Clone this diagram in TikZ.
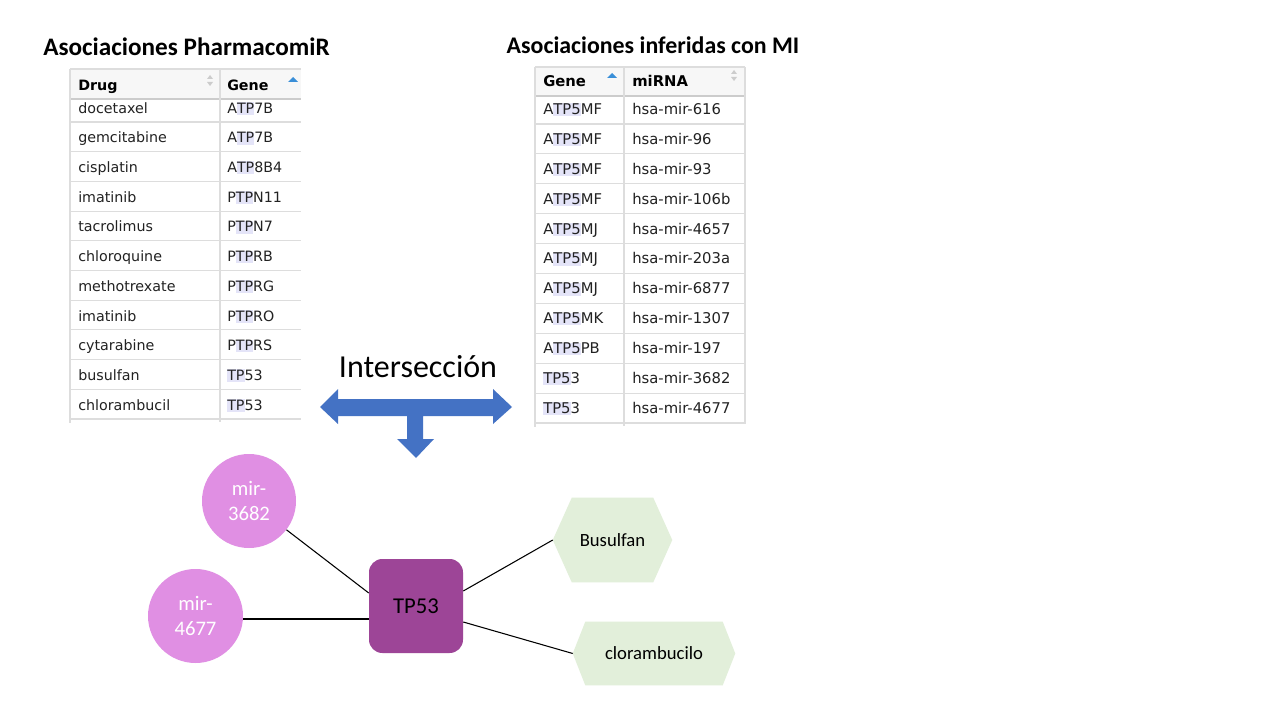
\documentclass[tikz,border=0pt]{standalone}
\usepackage{fontspec}
\setmainfont{Carlito}
\newfontfamily\tabfont{DejaVu Sans}
\usetikzlibrary{shapes.geometric}
\definecolor{arrowblue}{HTML}{4472C4}
\definecolor{mirpink}{HTML}{E08FE3}
\definecolor{tppurple}{HTML}{9D4597}
\definecolor{druggreen}{HTML}{E2EFDA}
\definecolor{hlc}{HTML}{E4E4F8}
\definecolor{gridc}{HTML}{DDDDDD}
\definecolor{headbg}{HTML}{F7F7F7}
\definecolor{sortblue}{HTML}{3A8FD8}
\definecolor{sortgrey}{HTML}{CCCCCC}
\definecolor{tabtext}{HTML}{222222}
\newcommand\hltxt[1]{{\setlength\fboxsep{0pt}\colorbox{hlc}{\rule[-1.3pt]{0pt}{9.6pt}#1}}}
\pgfdeclarelayer{bg}
\pgfsetlayers{bg,main}
\begin{document}
\begin{tikzpicture}[x=0.75pt,y=-0.75pt,
  titletxt/.style={inner sep=0pt,font=\bfseries\fontsize{18.9}{22}\selectfont},
  tabtxtL/.style={anchor=west,inner sep=0pt,text height=7.7pt,text depth=0pt,text=tabtext,font=\tabfont\fontsize{10.7}{12}\selectfont},
  tabtxtR/.style={anchor=west,inner sep=0pt,text height=8.1pt,text depth=0pt,text=tabtext,font=\tabfont\fontsize{11.1}{13}\selectfont},
  headL/.style={tabtxtL,text=black,font=\tabfont\bfseries\fontsize{10.7}{12}\selectfont},
  headR/.style={tabtxtR,text=black,font=\tabfont\bfseries\fontsize{11.1}{13}\selectfont},
  grid/.style={draw=gridc,line width=0.8pt},
  mirnode/.style={ellipse,fill=mirpink,inner sep=0pt,text=white,align=center,font=\fontsize{15.5}{19}\selectfont},
  genenode/.style={rectangle,rounded corners=10pt,fill=tppurple,minimum width=70.5pt,minimum height=70.5pt,inner sep=0pt,font=\fontsize{17}{20}\selectfont},
  hexnode/.style={rectangle,inner sep=0pt,font=\fontsize{14}{17}\selectfont},
  link/.style={draw=black,line width=0.8pt}
]
\useasboundingbox (0,0) rectangle (1280,720);
\begin{pgfonlayer}{bg}
\fill[white] (0,0) rectangle (1280,720);
\end{pgfonlayer}

% titles
\node[titletxt] (t1) at (186.5,47) {Asociaciones PharmacomiR};
\node[titletxt,font=\bfseries\fontsize{17.9}{22}\selectfont] (t2) at (653,45) {Asociaciones inferidas con MI};

% ---------- left table ----------
\fill[headbg] (70,69) rectangle (301,99);
\draw[grid] (70,69) -- (301,69);
\draw[draw=sortgrey,line width=0.8pt] (70,99) -- (301,99);
\foreach \k in {0,...,10} \draw[grid] (70,{122+29.7*\k}) -- (301,{122+29.7*\k});
\draw[grid] (70,69) -- (70,423);
\draw[grid] (220,69) -- (220,422);
\node[headL] (lh1) at (78,85) {Drug};
\node[headL] (lh2) at (227,85) {Gene};
\fill[sortgrey] (207,79) -- (213,79) -- (210,75) -- cycle;
\fill[sortgrey] (207,82) -- (213,82) -- (210,86) -- cycle;
\fill[sortblue] (288,82) -- (298,82) -- (293,77) -- cycle;
\foreach \d/\p/\h/\q [count=\i from 0] in {docetaxel/A/TP/7B, gemcitabine/A/TP/7B, cisplatin/A/TP/8B4, imatinib/P/TP/N11, tacrolimus/P/TP/N7, chloroquine/P/TP/RB, methotrexate/P/TP/RG, imatinib/P/TP/RO, cytarabine/P/TP/RS, busulfan//TP/53, chlorambucil//TP/53}{
  \node[tabtxtL] (ld\i) at (78,{108+29.7*\i}) {\d};
  \node[tabtxtL] (lg\i) at (227,{108+29.7*\i}) {\p\hltxt{\h}\q};
}

% ---------- right table ----------
\fill[headbg] (535,67) rectangle (745,96);
\draw[grid] (535,67) -- (745,67);
\draw[draw=sortgrey,line width=0.8pt] (535,96) -- (745,96);
\foreach \k in {0,...,10} \draw[grid] (535,{124+29.9*\k}) -- (745,{124+29.9*\k});
\draw[grid] (535,67) -- (535,427);
\draw[grid] (624,67) -- (624,426);
\draw[grid] (745,67) -- (745,424);
\node[headR] (rh1) at (543,81) {Gene};
\node[headR] (rh2) at (632,81) {miRNA};
\fill[sortblue] (607,78) -- (617,78) -- (612,73) -- cycle;
\fill[sortgrey] (731,74) -- (737,74) -- (734,70) -- cycle;
\fill[sortgrey] (731,77) -- (737,77) -- (734,81) -- cycle;
\foreach \p/\h/\q/\m [count=\i from 0] in {A/TP5/MF/616, A/TP5/MF/96, A/TP5/MF/93, A/TP5/MF/106b, A/TP5/MJ/4657, A/TP5/MJ/203a, A/TP5/MJ/6877, A/TP5/MK/1307, A/TP5/PB/197, /TP5/3/3682, /TP5/3/4677}{
  \node[tabtxtR] (rg\i) at (543,{109+29.9*\i}) {\p\hltxt{\h}\q};
  \node[tabtxtR] (rm\i) at (632,{109+29.9*\i}) {hsa-mir-\m};
}

% ---------- intersection arrow ----------
\node[inner sep=0pt,font=\fontsize{24}{28}\selectfont] (inter) at (418,367) {Intersección};
\fill[arrowblue] (320,407) -- (338,389) -- (338,399) -- (493,399) -- (493,389) -- (512,407)
  -- (493,424) -- (493,416) -- (423,416) -- (423,439) -- (434,439) -- (416,458)
  -- (397,439) -- (407,439) -- (407,416) -- (338,416) -- (338,424) -- cycle;

% ---------- network ----------
\node[mirnode,minimum width=70.5pt,minimum height=70.5pt] (m1) at (249,501) {mir-\\3682};
\node[mirnode,minimum width=71.25pt,minimum height=70.5pt] (m2) at (195.5,616) {mir-\\4677};
\node[genenode] (tp) at (416,606) {TP53};
\node[hexnode,minimum width=89.25pt,minimum height=63pt] (bus) at (612.5,540) {Busulfan};
\node[hexnode,minimum width=121.5pt,minimum height=47.25pt] (clo) at (654,653.5) {clorambucilo};
\begin{pgfonlayer}{bg}
\fill[druggreen] (bus.west) -- ([xshift=14.25pt]bus.north west) -- ([xshift=-14.25pt]bus.north east)
  -- (bus.east) -- ([xshift=-14.25pt]bus.south east) -- ([xshift=14.25pt]bus.south west) -- cycle;
\fill[druggreen] (clo.west) -- ([xshift=9.4pt]clo.north west) -- ([xshift=-9.4pt]clo.north east)
  -- (clo.east) -- ([xshift=-9.4pt]clo.south east) -- ([xshift=9.4pt]clo.south west) -- cycle;
\end{pgfonlayer}
\draw[link] (m1) -- ([yshift=9.75pt]tp.west);
\draw[link] ([yshift=-2.25pt]m2.east) -- ([yshift=-9.75pt]tp.west);
\draw[link] ([yshift=11.25pt]tp.east) -- (bus.west);
\draw[link] ([yshift=-12pt]tp.east) -- (clo.west);
\end{tikzpicture}
\end{document}
